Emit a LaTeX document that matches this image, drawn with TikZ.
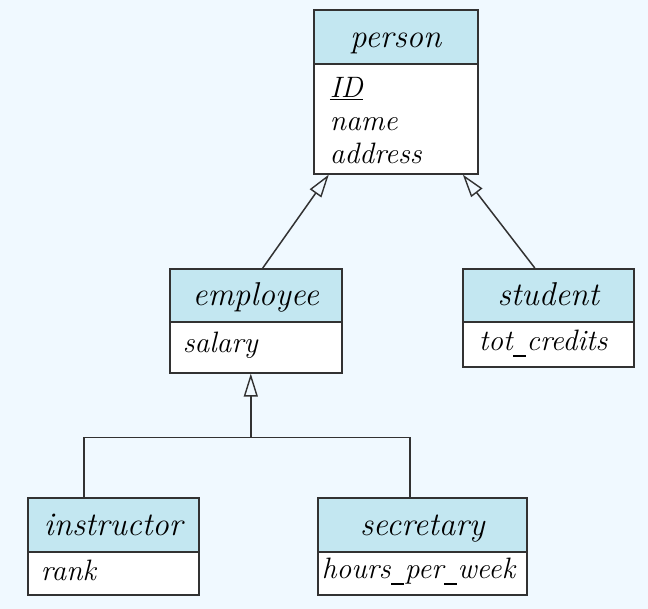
\documentclass[tikz,border=0pt]{standalone}
\usetikzlibrary{arrows.meta,positioning}
\definecolor{bgcol}{RGB}{240,249,255}
\definecolor{headcol}{RGB}{195,231,241}
\definecolor{edgecol}{RGB}{50,50,50}
\newcommand{\usc}{\kern0.5pt\rule[-6pt]{13pt}{1.4pt}\kern0.5pt}
\tikzset{
  hdr/.style={draw=edgecol, fill=headcol, line width=1.6pt, anchor=north west,
    inner sep=0pt, text height=38pt, text depth=16pt,
    font=\fontsize{33}{33}\selectfont\itshape},
  bdy/.style={draw=edgecol, fill=white, line width=1.6pt, anchor=north west,
    inner sep=0pt, align=left, font=\fontsize{29.5}{33}\selectfont\itshape},
  conn/.style={draw=edgecol, line width=1.5pt},
  isa/.style={conn, -{Triangle[open, length=23pt, width=14pt, line width=1.4pt]}}
}
\begin{document}
\begin{tikzpicture}[x=1pt,y=-1pt]
\fill[bgcol] (0,0) rectangle (648,609);
\useasboundingbox (0,0) rectangle (648,609);
% person
\node[hdr, minimum width=164pt, minimum height=54pt] (personH) at (313,9) {person};
\node[bdy, minimum width=164pt, minimum height=110pt, text width=132pt,
  text height=34pt, text depth=76pt] (personB) at (313,63) {\underline{ID}\\name\\address};
% employee
\node[hdr, minimum width=172pt, minimum height=53pt, text height=37pt] (employeeH) at (169,268) {employee};
\node[bdy, minimum width=172pt, minimum height=51pt, text width=146pt,
  text height=31pt, text depth=20pt] (employeeB) at (169,321) {salary};
% student
\node[hdr, minimum width=171pt, minimum height=53pt, text height=37pt] (studentH) at (462,268) {student};
\node[bdy, minimum width=171pt, minimum height=45pt, text width=139pt,
  text height=29pt, text depth=16pt] (studentB) at (462,321) {tot\usc credits};
% instructor
\node[hdr, minimum width=171pt, minimum height=54pt] (instructorH) at (27,497) {instructor};
\node[bdy, minimum width=171pt, minimum height=43pt, text width=145pt,
  text height=29pt, text depth=14pt] (instructorB) at (27,551) {rank};
% secretary
\node[hdr, minimum width=209pt, minimum height=54pt] (secretaryH) at (317,497) {secretary};
\node[bdy, minimum width=209pt, minimum height=43pt, text width=201pt,
  text height=27pt, text depth=16pt] (secretaryB) at (317,551) {hours\usc per\usc week};
% connectors
\draw[isa] ([xshift=7pt]employeeH.north) -- ([xshift=-67pt]personB.south);
\draw[isa] ([xshift=-13.5pt]studentH.north) -- ([xshift=67pt]personB.south);
\coordinate (join) at ([xshift=-5pt,yshift=-64pt]employeeB.south);
\draw[isa] (join) -- ([xshift=-5pt]employeeB.south);
\draw[conn] ([xshift=-29.5pt]instructorH.north) |- (join) -| ([xshift=-12.5pt]secretaryH.north);
\end{tikzpicture}
\end{document}
